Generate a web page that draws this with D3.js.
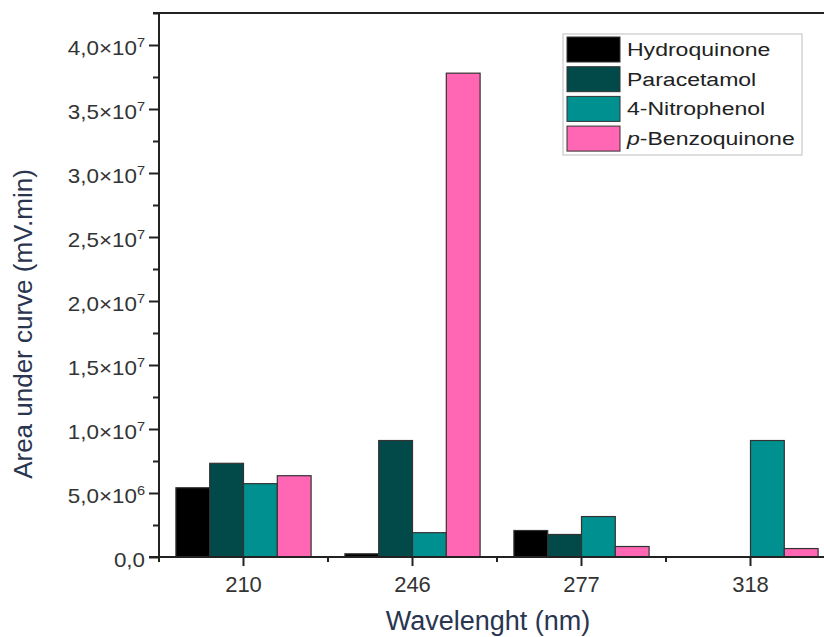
<!DOCTYPE html>
<html>
<head>
<meta charset="utf-8">
<script src="https://cdn.jsdelivr.net/npm/d3@7"></script>
<style>
  html, body { margin: 0; padding: 0; background: #fff; }
  svg { display: block; font-family: "Liberation Sans", Arial, sans-serif; }
</style>
</head>
<body>
<svg id="chart" width="824" height="637"></svg>
<script>
// Wavelengths (nm) on the x axis
const wavelengths = ["210", "246", "277", "318"];
// Compounds shown as grouped bars
const compounds = ["Hydroquinone", "Paracetamol", "4-Nitrophenol", "p-Benzoquinone"];
const colors = ["#000000", "#024a4a", "#009090", "#ff66b3"];
// Area under curve (mV.min) for each compound at each wavelength
const hydroquinone  = [5.41e6, 0.25e6, 2.07e6, 0];
const paracetamol   = [7.32e6, 9.10e6, 1.76e6, 0];
const nitrophenol   = [5.73e6, 1.90e6, 3.16e6, 9.10e6];
const benzoquinone  = [6.35e6, 37.8e6, 0.82e6, 0.66e6];
const seriesValues = [hydroquinone, paracetamol, nitrophenol, benzoquinone];
// Y tick labels: mantissa and power of ten
const yTickValues = [0, 5e6, 1e7, 1.5e7, 2e7, 2.5e7, 3e7, 3.5e7, 4e7];
const yTickMantissa = ["0,0", "5,0", "1,0", "1,5", "2,0", "2,5", "3,0", "3,5", "4,0"];
const yTickExponent = ["", "6", "7", "7", "7", "7", "7", "7", "7"];
const yMinorValues = [2.5e6, 7.5e6, 1.25e7, 1.75e7, 2.25e7, 2.75e7, 3.25e7, 3.75e7, 4.25e7];

const svg = d3.select("#chart");
const plotLeft = 159, plotRight = 835, plotTop = 13, plotBottom = 557;
const axisColor = "#222";

const x = d3.scaleBand().domain(wavelengths).range([plotLeft, plotRight])
  .paddingInner(0.2).paddingOuter(0.1);
const xs = d3.scaleBand().domain(compounds).range([0, x.bandwidth()]);
const y = d3.scaleLinear().domain([0, 4.25e7]).range([plotBottom, plotTop]);

// Bars
const groups = svg.append("g").selectAll("g")
  .data(wavelengths).join("g")
  .attr("transform", d => `translate(${x(d)},0)`);
groups.selectAll("rect")
  .data((w, i) => compounds.map((c, k) => ({ c, k, v: seriesValues[k][i] })).filter(d => d.v > 0))
  .join("rect")
  .attr("x", d => xs(d.c))
  .attr("width", xs.bandwidth())
  .attr("y", d => y(d.v))
  .attr("height", d => y(0) - y(d.v))
  .attr("fill", d => colors[d.k])
  .attr("stroke", "#333")
  .attr("stroke-width", 1.2);

// Frame top line
svg.append("line")
  .attr("x1", plotLeft - 6).attr("x2", 824).attr("y1", plotTop).attr("y2", plotTop)
  .attr("stroke", axisColor).attr("stroke-width", 2);

// Y axis minor ticks
svg.append("g").attr("transform", `translate(${plotLeft},0)`)
  .call(d3.axisLeft(y).tickValues(yMinorValues).tickSize(6).tickFormat(""))
  .call(g => g.select(".domain").remove())
  .call(g => g.selectAll("line").attr("stroke", axisColor).attr("stroke-width", 2));

// Y axis major ticks and labels
const yAxis = svg.append("g").attr("transform", `translate(${plotLeft},0)`)
  .call(d3.axisLeft(y).tickValues(yTickValues).tickSize(10).tickFormat(""));
yAxis.select(".domain").remove();
yAxis.selectAll("line").attr("stroke", axisColor).attr("stroke-width", 2);
yAxis.selectAll(".tick").each(function (d, i) {
  const t = d3.select(this).append("text")
    .attr("fill", "#333")
    .attr("font-size", 20)
    .attr("text-anchor", "end")
    .attr("transform", "translate(-14,9) scale(1.12,1)");
  if (yTickExponent[i]) {
    t.append("tspan").text(yTickMantissa[i] + "×10");
    t.append("tspan").text(yTickExponent[i]).attr("font-size", 13).attr("dy", -8);
  } else {
    t.append("tspan").text(yTickMantissa[i]);
  }
});
// Y axis line
svg.append("line")
  .attr("x1", plotLeft).attr("x2", plotLeft).attr("y1", plotTop - 1).attr("y2", plotBottom + 5)
  .attr("stroke", axisColor).attr("stroke-width", 2);

// X axis
const xAxis = svg.append("g").attr("transform", `translate(0,${plotBottom})`)
  .call(d3.axisBottom(x).tickSize(9).tickSizeOuter(0));
xAxis.select(".domain").remove();
xAxis.selectAll("line").attr("stroke", axisColor).attr("stroke-width", 2);
xAxis.selectAll("text").attr("font-size", 22).attr("fill", "#333")
  .attr("font-family", "Liberation Sans, Arial, sans-serif").attr("dy", "1.05em");
// minor ticks between groups
const gap = (x.step() - x.bandwidth()) / 2;
xAxis.selectAll(".minor").data(wavelengths.slice(1)).join("line")
  .attr("class", "minor")
  .attr("x1", d => x(d) - gap).attr("x2", d => x(d) - gap)
  .attr("y1", 0).attr("y2", 5)
  .attr("stroke", axisColor).attr("stroke-width", 2);
svg.append("line")
  .attr("x1", plotLeft - 10).attr("x2", 824).attr("y1", plotBottom).attr("y2", plotBottom)
  .attr("stroke", axisColor).attr("stroke-width", 2);

// Axis titles
svg.append("text")
  .attr("x", (plotLeft + plotRight) / 2 - 9).attr("y", 630)
  .attr("text-anchor", "middle").attr("font-size", 27).attr("fill", "#2a3550")
  .text("Wavelenght (nm)");
svg.append("text")
  .attr("transform", "translate(32,324) rotate(-90)")
  .attr("text-anchor", "middle").attr("font-size", 26).attr("fill", "#2a3550")
  .text("Area under curve (mV.min)");

// Legend
const legend = svg.append("g").attr("transform", "translate(563,34)");
legend.append("rect").attr("width", 239).attr("height", 121)
  .attr("fill", "#fff").attr("stroke", "#c8c8c8").attr("stroke-width", 1.2);
const items = legend.selectAll(".item").data(compounds).join("g")
  .attr("class", "item")
  .attr("transform", (d, i) => `translate(4,${3 + i * 29.7})`);
items.append("rect").attr("width", 53).attr("height", 25)
  .attr("fill", (d, i) => colors[i]).attr("stroke", "#333").attr("stroke-width", 1);
items.append("text")
  .attr("transform", "translate(60,19) scale(1.28,1)")
  .attr("font-size", 18).attr("fill", "#222")
  .each(function (d) {
    const t = d3.select(this);
    if (d.startsWith("p-")) {
      t.append("tspan").attr("font-style", "italic").text("p");
      t.append("tspan").text(d.slice(1));
    } else {
      t.text(d);
    }
  });
</script>
</body>
</html>
